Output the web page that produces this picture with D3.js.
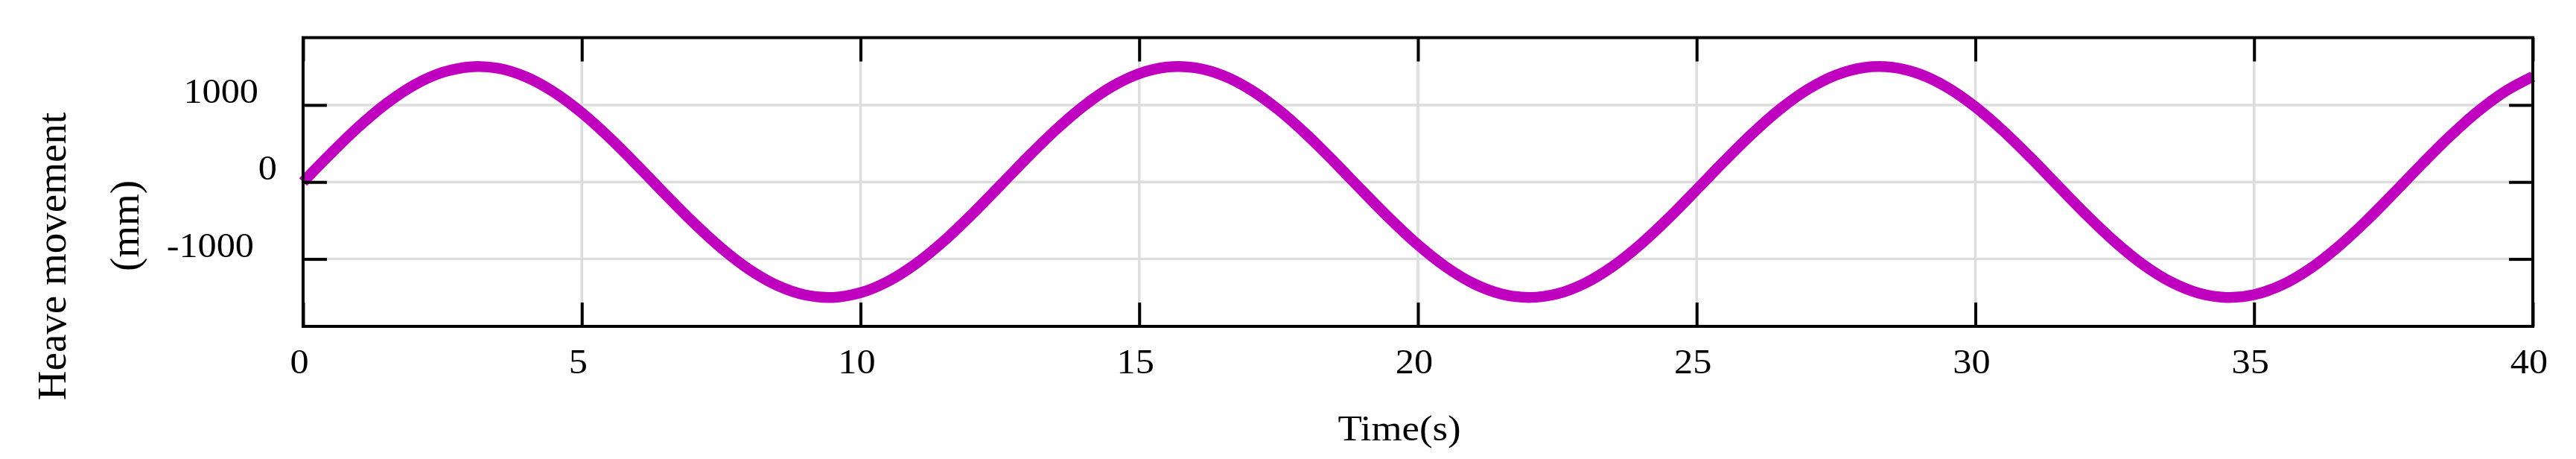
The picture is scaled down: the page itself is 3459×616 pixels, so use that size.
<!DOCTYPE html>
<html>
<head>
<meta charset="utf-8">
<script src="https://cdn.jsdelivr.net/npm/d3@7/dist/d3.min.js"></script>
<style>
  html, body { margin: 0; padding: 0; background: #ffffff; }
  svg { display: block; }
  text { font-family: "Liberation Serif", "Times New Roman", serif; fill: #000; }
</style>
</head>
<body>
<svg id="chart" width="3459" height="616"></svg>
<script>
// ---- data ----
const times = [
  0, 0.5, 1, 1.5, 2, 2.5, 3, 3.5, 4, 4.5, 5, 5.5, 6, 6.5, 7, 7.5, 8, 8.5, 9, 9.5,
  10, 10.5, 11, 11.5, 12, 12.5, 13, 13.5, 14, 14.5, 15, 15.5, 16, 16.5, 17, 17.5, 18, 18.5, 19, 19.5,
  20, 20.5, 21, 21.5, 22, 22.5, 23, 23.5, 24, 24.5, 25, 25.5, 26, 26.5, 27, 27.5, 28, 28.5, 29, 29.5,
  30, 30.5, 31, 31.5, 32, 32.5, 33, 33.5, 34, 34.5, 35, 35.5, 36, 36.5, 37, 37.5, 38, 38.5, 39, 39.5, 40
];
const heave = [
  0, 371, 719, 1022, 1262, 1423, 1496, 1476, 1364, 1167, 898, 573, 212, -162, -526, -857, -1135, -1342, -1466, -1499,
  -1438, -1288, -1058, -763, -419, -50, 323, 675, 985, 1235, 1407, 1492, 1484, 1384, 1198, 937, 618, 261, -113, -479,
  -816, -1102, -1320, -1455, -1500, -1452, -1313, -1093, -805, -467, -99, 274, 630, 948, 1206, 1389, 1486, 1490, 1402, 1227,
  975, 663, 310, -63, -432, -774, -1068, -1295, -1442, -1499, -1464, -1337, -1127, -846, -514, -149, 225, 585, 908, 1175, 1369
];
const xTicks = [0, 5, 10, 15, 20, 25, 30, 35, 40];
const yTicks = [-1000, 0, 1000];
const xDomain = [0, 40];
const yDomain = [-1875, 1875];
const xTitle = "Time(s)";
const yTitleLines = ["Heave movement", "(mm)"];

// ---- layout ----
const L = 407, R = 3401, T = 50.5, B = 438;
const svg = d3.select("#chart");
const x = d3.scaleLinear().domain(xDomain).range([L, R]);
const y = d3.scaleLinear().domain(yDomain).range([B, T]);

const gridColor = "#dddddd";
const tickLen = 32;

// gridlines
svg.append("g").selectAll("line.vg").data(xTicks.filter(d => d > xDomain[0] && d < xDomain[1]))
  .join("line").attr("x1", d => x(d)).attr("x2", d => x(d)).attr("y1", T).attr("y2", B)
  .attr("stroke", gridColor).attr("stroke-width", 3.5);
svg.append("g").selectAll("line.hg").data(yTicks)
  .join("line").attr("x1", L).attr("x2", R).attr("y1", d => y(d)).attr("y2", d => y(d))
  .attr("stroke", gridColor).attr("stroke-width", 3.5);

// curve
const pts = times.map((t, i) => [t, heave[i]]);
svg.append("path").datum(pts)
  .attr("fill", "none").attr("stroke", "#bf00bf").attr("stroke-width", 14.5)
  .attr("d", d3.line().x(d => x(d[0])).y(d => y(d[1])).curve(d3.curveCatmullRom.alpha(0.5)));

// axes with inward ticks
const axisStyle = g => {
  g.select(".domain").remove();
  g.selectAll(".tick line").attr("stroke", "#000").attr("stroke-width", 4);
  g.selectAll(".tick text").remove();
};
svg.append("g").attr("transform", `translate(0,${B})`)
  .call(d3.axisBottom(x).tickValues(xTicks).tickSize(-tickLen).tickSizeOuter(0)).call(axisStyle);
svg.append("g").attr("transform", `translate(0,${T})`)
  .call(d3.axisTop(x).tickValues(xTicks).tickSize(-tickLen).tickSizeOuter(0)).call(axisStyle);
svg.append("g").attr("transform", `translate(${L},0)`)
  .call(d3.axisLeft(y).tickValues(yTicks).tickSize(-tickLen).tickSizeOuter(0)).call(axisStyle);
svg.append("g").attr("transform", `translate(${R},0)`)
  .call(d3.axisRight(y).tickValues(yTicks).tickSize(-tickLen).tickSizeOuter(0)).call(axisStyle);

// frame
svg.append("rect").attr("x", L).attr("y", T).attr("width", R - L).attr("height", B - T)
  .attr("fill", "none").attr("stroke", "#000").attr("stroke-width", 4);

// tick labels
const sx = 1.07;
svg.append("g").selectAll("text").data(xTicks).join("text")
  .attr("transform", d => `translate(${x(d) - 5},501) scale(${sx},1)`)
  .attr("text-anchor", "middle").attr("font-size", 47)
  .text(d => d);

const yLabelRight = v => v === 0 ? 372 : (v > 0 ? 347 : 341);
svg.append("g").selectAll("text").data(yTicks).join("text")
  .attr("transform", d => `translate(${yLabelRight(d)},${y(d) - 3}) scale(${sx},1)`)
  .attr("text-anchor", "end").attr("font-size", 47)
  .text(d => d);

// axis titles
svg.append("text").attr("transform", "translate(1879,591) scale(1.1,1)")
  .attr("text-anchor", "middle").attr("font-size", 48).text(xTitle);

svg.append("text").attr("transform", "translate(88,344) rotate(-90)")
  .attr("text-anchor", "middle").attr("font-size", 55).text(yTitleLines[0]);
svg.append("text").attr("transform", "translate(186,303) rotate(-90)")
  .attr("text-anchor", "middle").attr("font-size", 55).text(yTitleLines[1]);
</script>
</body>
</html>
